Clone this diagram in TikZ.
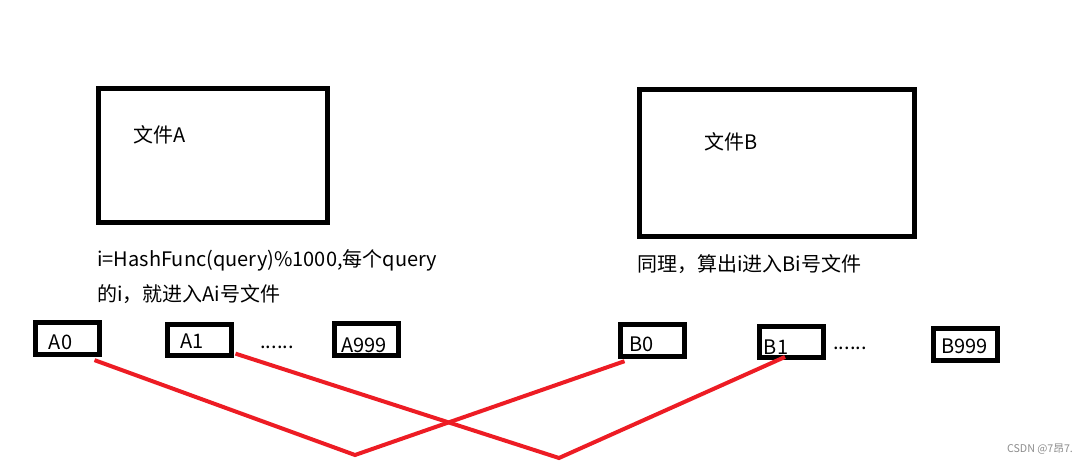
\documentclass[tikz,border=0pt]{standalone}
\usepackage{fontspec}
\setmainfont{Noto Sans CJK SC}
\definecolor{paintred}{HTML}{ED1C24}

\begin{document}
\begin{tikzpicture}[x=0.75pt, y=-0.75pt,
    every node/.style={inner sep=0pt, font=\fontsize{15pt}{18pt}\selectfont},
    bigbox/.style={draw, line width=3.75pt},
    smallbox/.style={draw, line width=3.75pt, minimum width=48pt, minimum height=23.5pt},
    redline/.style={draw=paintred, line width=3pt}]
            \useasboundingbox (0,0) rectangle (1092,466);

            %Files
            \node[bigbox, minimum width=172pt, minimum height=100.7pt] at (212.75,155.6) (fileA) {};
            \node at (160,135) (nameA) {文件A};
            \node[bigbox, minimum width=206.25pt, minimum height=110.25pt] at (777,163) (fileB) {};
            \node at (731.5,142) (nameB) {文件B};

            %Texts
            \node[anchor=west] at (97,260) (ruleA1) {i=HashFunc(query)\%1000,每个query};
            \node[anchor=west] at (97,294) (ruleA2) {的i，就进入Ai号文件};
            \node[anchor=west] at (637,264) (ruleB) {同理，算出i进入Bi号文件};

            %Small files
            \node[smallbox] at (67.5,338.5) (A0) {};
            \node[smallbox] at (199.5,340) (A1) {};
            \node[smallbox] at (366,339.5) (A999) {};
            \node[smallbox] at (652.5,340.5) (B0) {};
            \node[smallbox] at (791,342.25) (B1) {};
            \node[smallbox] at (965.5,344.5) (B999) {};
            \node at (60.5,342) (tA0) {A0};
            \node at (192,341) (tA1) {A1};
            \node at (364,345) (tA999) {A999};
            \node at (641.5,344) (tB0) {B0};
            \node at (776,347) (tB1) {B1};
            \node at (964.5,346) (tB999) {B999};
            \node at (277,347) (dotsA) {......};
            \node at (850,348) (dotsB) {......};

            %Lines
            \coordinate (v1) at (355,455);
            \coordinate (v2) at (559,458);
            \draw[redline] ([xshift=-5.6pt, yshift=-2.6pt]A0.south east) -- (v1) -- ([xshift=4.9pt, yshift=-1.9pt]B0.south west);
            \draw[redline] ([xshift=1.1pt, yshift=3.4pt]A1.south east) -- (v2) -- ([xshift=-4.5pt, yshift=2.6pt]B1.south);

            %Mark
            \node[text=black!45, font=\fontsize{8pt}{10pt}\selectfont] at (1040,449) (mark) {CSDN @7昂7.};
        \end{tikzpicture}
\end{document}
